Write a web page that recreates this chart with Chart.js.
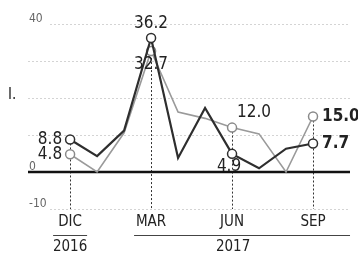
<!DOCTYPE html>
<html>
<head>
<meta charset="utf-8">
<script src="https://cdn.jsdelivr.net/npm/chart.js@4/dist/chart.umd.min.js"></script>
<style>
  html, body { margin: 0; padding: 0; background: #fff; }
  #wrap { width: 358px; height: 253px; position: relative; }
</style>
</head>
<body>
<div id="wrap"><canvas id="mycanvas" width="358" height="253"></canvas></div>
<script>
// data
var months = ['DIC', 'ENE', 'FEB', 'MAR', 'ABR', 'MAY', 'JUN', 'JUL', 'AGO', 'SEP'];
var darkValues = [8.8, 4.3, 11.2, 36.2, 3.8, 17.3, 4.9, 1.0, 6.3, 7.7];
var grayValues = [4.8, 0.0, 10.6, 32.7, 16.2, 14.5, 12.0, 10.3, 0.0, 15.0];
var yTicks = [40, 30, 20, 10, 0, -10];
var yTickLabels = ['40', '', '', '', '0', '-10'];
var shownMonths = [0, 3, 6, 9];
var years = [{ label: '2016', from: 0, to: 0 }, { label: '2017', from: 3, to: 9 }];

var FONT = "'Liberation Sans Narrow', 'DejaVu Sans Condensed', sans-serif";

function pts(values) {
  var out = [];
  for (var i in values) out.push({ x: Number(i), y: values[i] });
  return out;
}

function markerRadius(ctx) {
  return shownMonths.indexOf(ctx.dataIndex) >= 0 ? 4.5 : 0;
}

var decor = {
  id: 'decor',
  beforeDatasetsDraw: function(chart) {
    var c = chart.ctx, xs = chart.scales.x, ys = chart.scales.y;
    var left = 28, right = 350;
    c.save();
    // faint dotted gridlines
    c.strokeStyle = '#d4d4d4';
    c.lineWidth = 1;
    c.setLineDash([2, 2]);
    yTicks.forEach(function(v) {
      if (v === 0) return;
      var y = Math.round(ys.getPixelForValue(v)) + 0.5;
      var x0 = (v === 40 || v === -10) ? left + 22 : left;
      c.beginPath(); c.moveTo(x0, y); c.lineTo(right, y); c.stroke();
    });
    // y tick labels
    c.setLineDash([]);
    c.fillStyle = '#666';
    c.font = '12px ' + FONT;
    c.textAlign = 'left';
    c.textBaseline = 'middle';
    yTicks.forEach(function(v, i) {
      if (!yTickLabels[i]) return;
      c.fillText(yTickLabels[i], 29, ys.getPixelForValue(v) - 5);
    });
    // vertical dotted guides
    c.strokeStyle = '#333';
    c.setLineDash([2, 2]);
    shownMonths.forEach(function(i) {
      var x = Math.round(xs.getPixelForValue(i)) + 0.5;
      var top = ys.getPixelForValue(Math.max(darkValues[i], grayValues[i]));
      c.beginPath(); c.moveTo(x, top); c.lineTo(x, ys.getPixelForValue(-10)); c.stroke();
    });
    c.setLineDash([]);
    // zero line
    c.strokeStyle = '#111';
    c.lineWidth = 2.5;
    var y0 = ys.getPixelForValue(0);
    c.beginPath(); c.moveTo(left, y0); c.lineTo(right, y0); c.stroke();
    c.restore();
  },
  afterDatasetsDraw: function(chart) {
    var c = chart.ctx, xs = chart.scales.x, ys = chart.scales.y;
    c.save();
    c.fillStyle = '#222';
    function txt(s, x, y, align, bold, size) {
      c.font = (bold ? 'bold ' : '') + size + 'px ' + FONT;
      c.textAlign = align;
      c.textBaseline = 'middle';
      c.fillText(s, x, y);
    }
    var px = function(i) { return xs.getPixelForValue(i); };
    var py = function(v) { return ys.getPixelForValue(v); };
    txt(darkValues[0].toFixed(1), px(0) - 8, py(darkValues[0]), 'right', false, 17);
    txt(grayValues[0].toFixed(1), px(0) - 8, py(grayValues[0]), 'right', false, 17);
    txt(darkValues[3].toFixed(1), px(3), py(darkValues[3]) - 14, 'center', false, 17);
    txt(grayValues[3].toFixed(1), px(3), py(grayValues[3]) + 14, 'center', false, 17);
    txt(grayValues[6].toFixed(1), px(6) + 5, py(grayValues[6]) - 15, 'left', false, 17);
    txt(darkValues[6].toFixed(1), px(6) - 3, py(darkValues[6]) + 13, 'center', false, 17);
    txt(grayValues[9].toFixed(1), px(9) + 9, py(grayValues[9]), 'left', true, 17);
    txt(darkValues[9].toFixed(1), px(9) + 9, py(darkValues[9]), 'left', true, 17);
    // month labels
    c.fillStyle = '#222';
    shownMonths.forEach(function(i) { txt(months[i], px(i), 222, 'center', false, 15); });
    // year rules and labels
    c.strokeStyle = '#444';
    c.lineWidth = 1;
    years.forEach(function(yr) {
      var a = px(yr.from) - 17, b = px(yr.to) + 37;
      if (yr.from === yr.to) b = px(yr.to) + 17;
      c.beginPath(); c.moveTo(a, 235.5); c.lineTo(b, 235.5); c.stroke();
      var mid = yr.from === yr.to ? px(yr.from) : px((yr.from + yr.to) / 2) + 1;
      txt(yr.label, mid, 247, 'center', false, 15);
    });
    // stray mark at left edge of the clipping
    txt('I.', 8, 95, 'left', false, 15);
    c.restore();
  }
};

var ctx = document.getElementById('mycanvas');
var chart = new Chart(ctx, {
  type: 'line',
  data: {
    datasets: [
      {
        label: 'dark',
        data: pts(darkValues),
        borderColor: '#2e2e2e',
        borderWidth: 2.2,
        pointRadius: markerRadius,
        pointBackgroundColor: '#fff',
        pointBorderColor: '#2e2e2e',
        pointBorderWidth: 1.5,
        tension: 0
      },
      {
        label: 'gray',
        data: pts(grayValues),
        borderColor: '#9a9a9a',
        borderWidth: 1.6,
        pointRadius: markerRadius,
        pointBackgroundColor: '#fff',
        pointBorderColor: '#8a8a8a',
        pointBorderWidth: 1.5,
        tension: 0
      }
    ]
  },
  options: {
    responsive: false,
    animation: false,
    layout: { padding: { left: 28, right: 8, top: 24, bottom: 44 } },
    plugins: { legend: { display: false }, tooltip: { enabled: false } },
    scales: {
      x: { type: 'linear', display: false, min: -1.56, max: 10.37 },
      y: { display: false, min: -10, max: 40 }
    }
  },
  plugins: [decor]
});
</script>
</body>
</html>
